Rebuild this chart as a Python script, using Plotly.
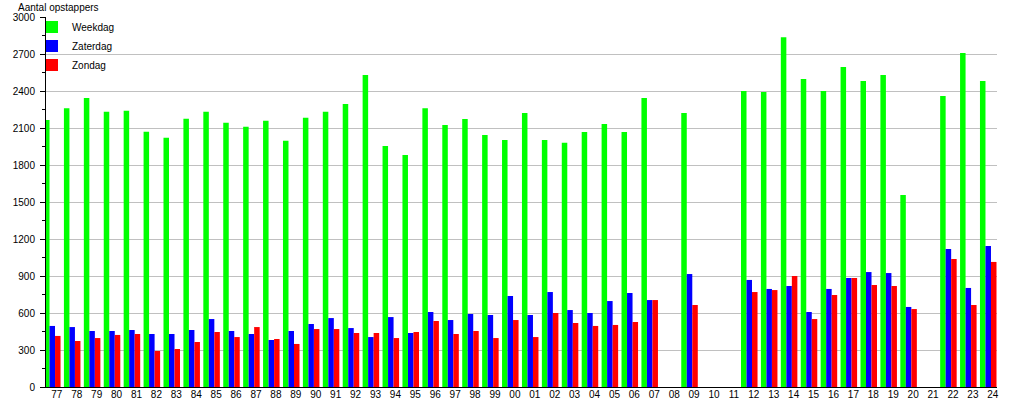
import plotly.graph_objects as go

years = ["77", "78", "79", "80", "81", "82", "83", "84", "85", "86", "87", "88",
         "89", "90", "91", "92", "93", "94", "95", "96", "97", "98", "99", "00",
         "01", "02", "03", "04", "05", "06", "07", "08", "09", "10", "11", "12",
         "13", "14", "15", "16", "17", "18", "19", "20", "21", "22", "23", "24"]

weekdag = [2165, 2260, 2343, 2232, 2240, 2070, 2021, 2175, 2232, 2143, 2110, 2159,
           1997, 2184, 2232, 2295, 2530, 1954, 1881, 2260, 2124, 2173, 2043, 2003,
           2222, 2003, 1981, 2068, 2132, 2068, 2343, None, 2222, None, None, 2400,
           2392, 2835, 2497, 2400, 2595, 2481, 2530, 1557, None, 2360, 2708, 2481]

zaterdag = [495, 486, 454, 454, 462, 430, 430, 462, 551, 454, 430, 381,
            454, 511, 559, 478, 405, 567, 438, 608, 543, 592, 584, 738,
            584, 770, 624, 600, 697, 762, 705, None, 916, None, None, 868,
            795, 819, 608, 795, 884, 932, 924, 649, None, 1119, 803, 1143]

zondag = [414, 373, 397, 422, 430, 292, 308, 365, 446, 405, 486, 389,
          349, 470, 470, 438, 438, 397, 446, 535, 430, 454, 397, 543,
          405, 600, 519, 495, 503, 527, 705, None, 665, None, None, 770,
          786, 900, 551, 746, 884, 827, 819, 632, None, 1038, 665, 1014]

series = [("Weekdag", weekdag, "#00ff00"),
          ("Zaterdag", zaterdag, "#0000ff"),
          ("Zondag", zondag, "#ff0000")]

pos = list(range(len(years)))
label_shift = 0.23

fig = go.Figure()
for name, vals, col in series:
    fig.add_trace(go.Bar(x=pos, y=vals, name=name, marker=dict(color=col, line=dict(width=0))))

font_family = "Liberation Sans, Arial, sans-serif"
fig.update_layout(
    width=1015, height=400,
    margin=dict(l=46, r=18, t=17, b=13),
    paper_bgcolor="white", plot_bgcolor="white",
    barmode="group", bargap=0.17, bargroupgap=0,
    font=dict(family=font_family, size=10, color="black"),
    title=dict(text="Aantal opstappers", x=18 / 1015, xanchor="left",
               y=1 - 7 / 400, yanchor="middle", font=dict(size=10, color="black")),
    legend=dict(x=-14 / 951, y=1 + 4.5 / 370, xanchor="left", yanchor="top",
                bgcolor="rgba(0,0,0,0)", font=dict(size=10), tracegroupgap=0),
    showlegend=True,
)
fig.update_xaxes(
    range=[-0.315, 47.44], tickmode="array",
    tickvals=[p + label_shift for p in pos], ticktext=years,
    showline=True, linecolor="black", linewidth=1, ticks="", showgrid=False,
    zeroline=False, automargin=False, tickfont=dict(size=10), ticklabelstandoff=-2,
)
fig.update_yaxes(
    range=[0, 3000], dtick=300, tick0=0,
    showline=True, linecolor="black", linewidth=1,
    ticks="outside", ticklen=5, tickcolor="black", ticklabelstandoff=3,
    showgrid=True, gridcolor="#c0c0c0", gridwidth=1, zeroline=False,
    minor=dict(dtick=150, ticks="outside", ticklen=3, tickcolor="black", showgrid=False),
    automargin=False, tickfont=dict(size=10),
)

fig.write_html("out.html", config={"displayModeBar": False},
               post_script="document.body.style.margin='0';")
